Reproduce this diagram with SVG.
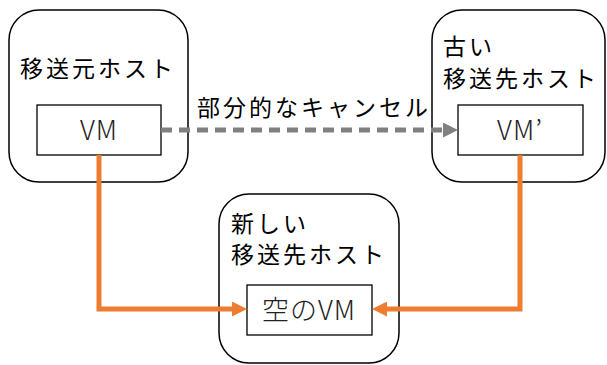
<svg xmlns="http://www.w3.org/2000/svg" width="607" height="365" viewBox="0 0 607 365">
<defs>
<style>
.host{fill:#fff;stroke:#000;stroke-width:1.5}
.vm{fill:#fff;stroke:#000;stroke-width:1.3}
.t{font-family:"Noto Sans CJK JP","Noto Sans",sans-serif;font-size:23px;fill:#000;letter-spacing:3px}
.v{font-family:"Noto Sans CJK JP","Noto Sans",sans-serif;font-size:27px;fill:#222;text-anchor:middle;font-weight:300;letter-spacing:1px}
.or{fill:none;stroke:#ED7D31;stroke-width:5}
.gr{fill:none;stroke:#808080;stroke-width:5;stroke-dasharray:11 7}
</style>
<marker id="ao" markerWidth="15" markerHeight="15" refX="8" refY="7.5" orient="auto" markerUnits="userSpaceOnUse"><path d="M0,0 L15,7.5 L0,15 Z" fill="#ED7D31"/></marker>
<marker id="ag" markerWidth="15" markerHeight="15" refX="8" refY="7.5" orient="auto" markerUnits="userSpaceOnUse"><path d="M0,0 L15,7.5 L0,15 Z" fill="#808080"/></marker>
</defs>
<g id="src">
<rect class="host" x="9" y="10" width="179" height="172" rx="30"/>
<text class="t" x="20" y="77">移送元ホスト</text>
<rect class="vm" x="37" y="105" width="124" height="50"/>
<text class="v" x="99" y="140">VM</text>
</g>
<g id="old">
<rect class="host" x="432" y="10" width="173" height="172" rx="30"/>
<text class="t" x="443" y="55">古い</text>
<text class="t" x="443" y="87">移送先ホスト</text>
<rect class="vm" x="458" y="105" width="125" height="50"/>
<text class="v" x="520" y="140">VM’</text>
</g>
<g id="new">
<rect class="host" x="219" y="194" width="180" height="169" rx="30"/>
<text class="t" x="231" y="232">新しい</text>
<text class="t" x="231" y="263">移送先ホスト</text>
<rect class="vm" x="247" y="285" width="125" height="50"/>
<text class="v" x="309" y="320">空のVM</text>
</g>
<g id="connectors">
<path class="gr" d="M161,130 L451,130" marker-end="url(#ag)"/>
<text class="t" x="197" y="116">部分的なキャンセル</text>
<path class="or" d="M99,155 L99,309 L240,309" marker-end="url(#ao)"/>
<path class="or" d="M520,155 L520,309 L379,309" marker-end="url(#ao)"/>
</g>
</svg>
